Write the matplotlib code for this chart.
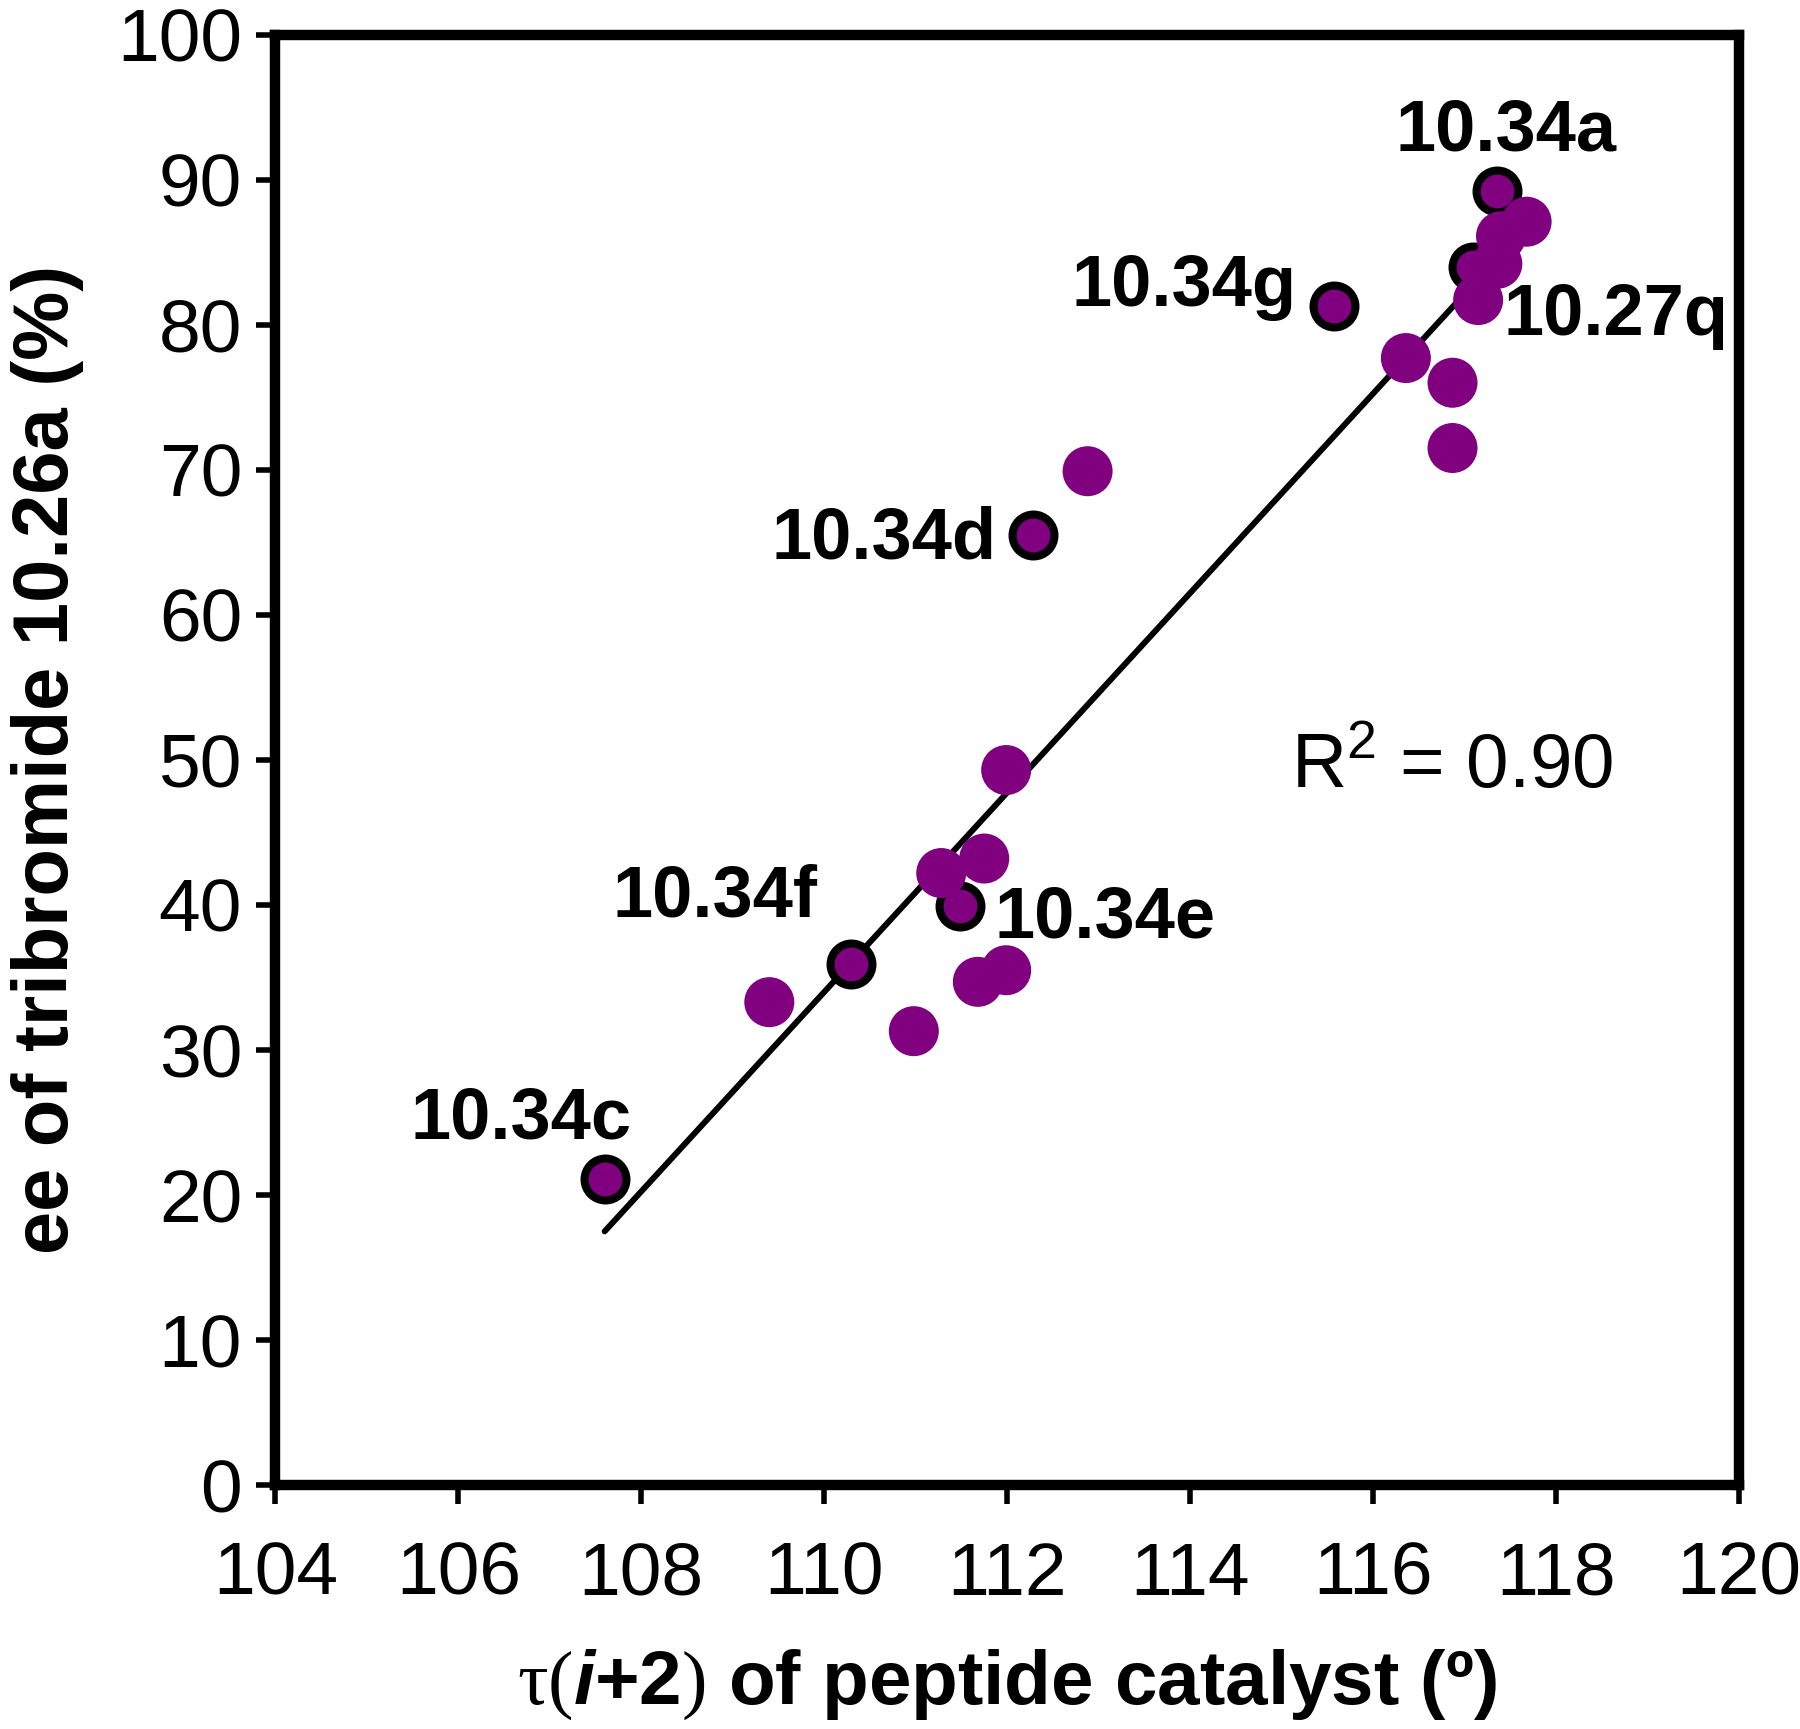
import numpy as np
import matplotlib.pyplot as plt

plt.rcParams['font.family'] = ['Liberation Sans', 'DejaVu Sans']
plt.rcParams['mathtext.fontset'] = 'custom'
plt.rcParams['mathtext.rm'] = 'Liberation Serif'
plt.rcParams['mathtext.sf'] = 'Liberation Sans'
plt.rcParams['mathtext.bfit'] = 'Liberation Sans:italic:bold'

# highlighted catalysts (black outline)
hl_names = ['10.34c', '10.34f', '10.34e', '10.34d', '10.34g', '10.27q', '10.34a']
hl_tau = [107.60, 110.29, 111.48, 112.28, 115.57, 117.09, 117.36]
hl_ee = [21.1, 35.9, 39.9, 65.5, 81.3, 84.0, 89.2]

# other catalysts
tau = [109.40, 110.98, 111.28, 111.75, 111.68, 111.99, 111.99, 112.88,
       116.36, 116.87, 116.87, 117.15, 117.36, 117.40, 117.68]
ee = [33.3, 31.3, 42.2, 43.2, 34.7, 35.5, 49.3, 69.9,
      77.7, 76.0, 71.5, 81.7, 84.2, 86.1, 87.1]

# label positions and alignment
lab_x = [107.89, 109.93, 111.86, 111.88, 115.17, 117.43, 117.46]
lab_y = [25.2, 40.5, 39.1, 65.2, 82.6, 80.6, 93.3]
lab_ha = ['right', 'right', 'left', 'right', 'right', 'left', 'center']

all_x = np.array(hl_tau + tau)
all_y = np.array(hl_ee + ee)
slope, icpt = np.polyfit(all_x, all_y, 1)
xfit = np.array([all_x.min(), 117.35])

fig = plt.figure(figsize=(18, 17.29), dpi=100)
ax = fig.add_axes([0.153, 0.141, 0.813, 0.839])

ax.plot(xfit, slope * xfit + icpt, color='black', lw=4.3, solid_capstyle='round', zorder=1)
ax.scatter(hl_tau, hl_ee, s=910, color='#800080', edgecolors='black', linewidths=5.8, zorder=2)
ax.scatter(tau, ee, s=1296, color='#800080', edgecolors='none', zorder=3)

for n, x, y, h in zip(hl_names, lab_x, lab_y, lab_ha):
    ax.text(x, y, n, ha=h, va='center', fontsize=52, fontweight='bold', zorder=4)

ax.text(115.1, 49.4, r'R$^{\mathsf{2}}$ = 0.90', ha='left', va='center', fontsize=55)

ax.set_xlim(104, 120)
ax.set_ylim(0, 100)
ax.set_xticks(np.arange(104, 121, 2))
ax.set_yticks(np.arange(0, 101, 10))
ax.tick_params(labelsize=54, width=4, length=14, direction='out')
ax.tick_params(axis='x', pad=26)
ax.tick_params(axis='y', pad=10)
for s in ax.spines.values():
    s.set_linewidth(7.5)

ax.set_xlabel(r'$\mathrm{τ(}\bfit{i}$+2$\mathrm{)}$ of peptide catalyst (º)',
              fontsize=55, fontweight='bold', labelpad=27)
ax.set_ylabel('ee of tribromide 10.26a (%)', fontsize=56, fontweight='bold', labelpad=24)

fig.savefig('out.png', dpi=100)
